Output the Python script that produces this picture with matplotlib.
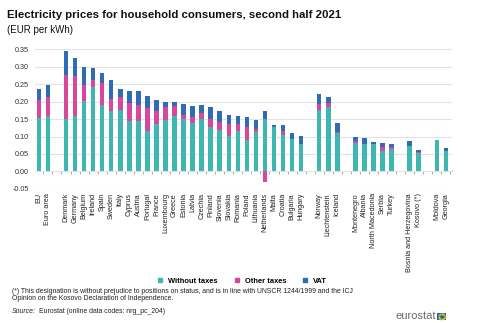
import numpy as np
import matplotlib
matplotlib.use("Agg")
import matplotlib.pyplot as plt

plt.rcParams['font.family'] = ['Liberation Sans', 'DejaVu Sans']

# Countries (empty strings are spacer slots between country groups)
countries = [
    "EU", "Euro area", "",
    "Denmark", "Germany", "Belgium", "Ireland", "Spain", "Sweden", "Italy",
    "Cyprus", "Austria", "Portugal", "France", "Luxembourg", "Greece",
    "Estonia", "Latvia", "Czechia", "Finland", "Slovenia", "Slovakia",
    "Romania", "Poland", "Lithuania", "Netherlands", "Malta", "Croatia",
    "Bulgaria", "Hungary", "",
    "Norway", "Liechtenstein", "Iceland", "",
    "Montenegro", "Albania", "North Macedonia", "Serbia", "Turkey", "",
    "Bosnia and Herzegovina", "Kosovo (*)", "",
    "Moldova", "Georgia",
]

# EUR per kWh (NaN for spacer slots)
n = np.nan
without_taxes = [
    0.152, 0.158, n,
    0.150, 0.159, 0.201, 0.242, 0.189, 0.173, 0.176,
    0.145, 0.145, 0.116, 0.136, 0.148, 0.159,
    0.150, 0.140, 0.151, 0.126, 0.120, 0.102,
    0.117, 0.089, 0.114, 0.151, 0.126, 0.103,
    0.092, 0.079, n,
    0.176, 0.184, 0.110, n,
    0.081, 0.080, 0.079, 0.059, 0.065, n,
    0.072, 0.053, n,
    0.090, 0.058,
]
other_taxes = [
    0.051, 0.056, n,
    0.126, 0.113, 0.047, 0.020, 0.064, 0.035, 0.038,
    0.051, 0.046, 0.065, 0.038, 0.036, 0.029,
    0.012, 0.016, 0.015, 0.023, 0.022, 0.034,
    0.019, 0.039, 0.008, -0.029, 0.002, 0.013,
    0.002, 0.001, n,
    0.018, 0.013, 0.004, n,
    0.005, 0.000, 0.000, 0.011, 0.004, n,
    0.002, 0.003, n,
    0.000, 0.001,
]
vat = [
    0.033, 0.034, n,
    0.069, 0.052, 0.052, 0.035, 0.029, 0.053, 0.022,
    0.034, 0.038, 0.036, 0.029, 0.015, 0.010,
    0.032, 0.032, 0.023, 0.035, 0.030, 0.026,
    0.024, 0.029, 0.026, 0.023, 0.006, 0.017,
    0.016, 0.021, n,
    0.027, 0.016, 0.026, n,
    0.012, 0.015, 0.005, 0.011, 0.011, n,
    0.014, 0.006, n,
    0.000, 0.009,
]

series_names = ["Without taxes", "Other taxes", "VAT"]
colors = ["#3db7b0", "#d9479a", "#2e6db4"]

fig = plt.figure(figsize=(4.8, 3.23), dpi=100)
ax = fig.add_axes([0.0725, 0.415, 0.8695, 0.433])

x = np.arange(len(countries))
pos_base = np.zeros(len(countries))
neg_base = np.zeros(len(countries))
for name, vals, col in zip(series_names, [without_taxes, other_taxes, vat], colors):
    v = np.nan_to_num(np.array(vals, dtype=float))
    bottoms = np.where(v >= 0, pos_base, neg_base)
    ax.bar(x, v, width=0.5, bottom=bottoms, color=col, label=name, zorder=3)
    pos_base += np.where(v >= 0, v, 0)
    neg_base += np.where(v < 0, v, 0)

ymin, ymax = -0.05, 0.35
ax.set_ylim(ymin, ymax)
ax.set_xlim(-0.45, 45.7)
ax.set_yticks(np.arange(-0.05, 0.351, 0.05))
ax.set_yticklabels([f"{t:.2f}" for t in np.arange(-0.05, 0.351, 0.05)])
ax.yaxis.grid(True, color="#e3e3e3", linewidth=0.8, zorder=0)
ax.tick_params(axis="y", length=0, labelsize=5.2, colors="#333333", pad=4)

ax.set_xticks(x)
ax.set_xticklabels(countries, rotation=90, fontsize=5.2, color="#222222")
ax.tick_params(axis="x", length=0, pad=3)
for s in ax.spines.values():
    s.set_visible(False)

# zero line with small category tick marks
zero_loc = (0 - ymin) / (ymax - ymin)
sec = ax.secondary_xaxis(zero_loc)
sec.set_xticks(np.arange(-0.5, 45.6, 1))
sec.set_xticklabels([])
sec.tick_params(axis="x", length=2, width=0.5, color="#888888", direction="out")
sec.spines["bottom"].set_color("#999999")
sec.spines["bottom"].set_linewidth(0.6)

fig.text(0.015, 0.955, "Electricity prices for household consumers, second half 2021",
         fontsize=8.2, fontweight="bold", va="center", color="#111111")
fig.text(0.015, 0.908, "(EUR per kWh)", fontsize=7, va="center", color="#111111")

handles = [plt.Line2D([], [], marker="s", linestyle="", markersize=2.6,
                      color=c) for c in colors]
fig.legend(handles, series_names, loc="center", bbox_to_anchor=(0.5, 0.13),
           ncol=3, frameon=False, handletextpad=0.1,
           columnspacing=1.5, prop={"weight": "bold", "size": 5.4})

fig.text(0.024, 0.087,
         "(*) This designation is without prejudice to positions on status, and is in line with UNSCR 1244/1999 and the ICJ\n"
         "Opinion on the Kosovo Declaration of Independence.",
         fontsize=4.95, va="center", color="#222222", linespacing=1.1)
fig.text(0.024, 0.035, "Source:", fontsize=4.95, style="italic", va="center", color="#222222")
fig.text(0.081, 0.035, "Eurostat (online data codes: nrg_pc_204)", fontsize=4.95,
         va="center", color="#222222")

# eurostat logo
fig.text(0.909, 0.022, "eurostat", fontsize=8, color="#6b6b6b", ha="right", va="center")
flag = fig.add_axes([0.911, 0.008, 0.019, 0.024])
flag.set_facecolor("#1f5fb0")
flag.set_xticks([]); flag.set_yticks([])
for s in flag.spines.values():
    s.set_visible(False)
ang = np.linspace(0, 2 * np.pi, 12, endpoint=False)
flag.scatter(0.5 + 0.3 * np.cos(ang), 0.5 + 0.32 * np.sin(ang), s=0.15, color="#ffdd00")
flag.set_xlim(0, 1); flag.set_ylim(0, 1)

fig.savefig("out.png", dpi=100)
